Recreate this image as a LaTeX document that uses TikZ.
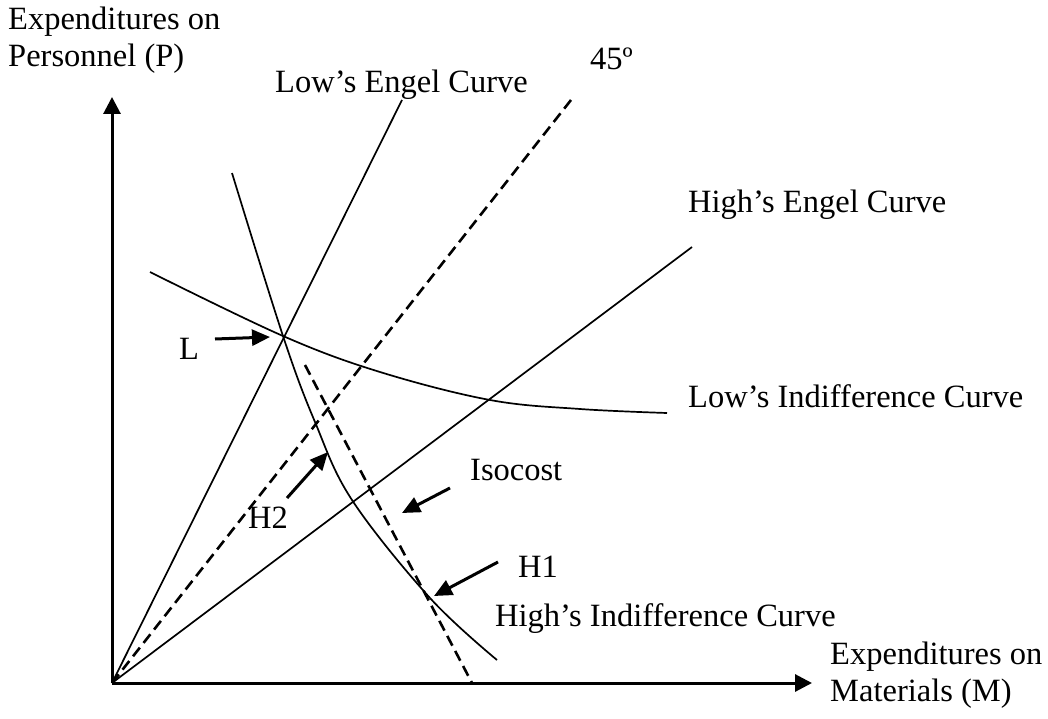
\documentclass[tikz,border=0pt]{standalone}
\usepackage{fontspec}
\setmainfont{Liberation Serif}
\usetikzlibrary{arrows.meta}
\begin{document}
\begin{tikzpicture}[x=1pt,y=-1pt,
  lbl/.style={anchor=base west, inner sep=0pt, font=\fontsize{32.5}{38}\selectfont},
  axisline/.style={line width=3pt, -{Triangle[length=17pt,width=17pt]}},
  curveline/.style={line width=1.7pt},
  dashline/.style={line width=2.6pt, dash pattern=on 11pt off 6pt},
  ptr/.style={line width=3pt, -{Triangle[length=18pt,width=16pt]}}
]
\path[use as bounding box] (0,0) rectangle (1048,719);

% labels
\node[lbl] (ylab1) at (8,30) {Expenditures on};
\node[lbl] (ylab2) at (8,67) {Personnel (P)};
\node[lbl] (xlab1) at (830,664) {Expenditures on};
\node[lbl] (xlab2) at (830,701) {Materials (M)};
\node[lbl] (lengel) at (275,93) {Low’s Engel Curve};
\node[lbl] (deg) at (590,70) {45º};
\node[lbl] (hengel) at (688,213) {High’s Engel Curve};
\node[lbl] (lindiff) at (688,407) {Low’s Indifference Curve};
\node[lbl] (hindiff) at (495,626) {High’s Indifference Curve};
\node[lbl] (Ltxt) at (179,359) {L};
\node[lbl] (H2txt) at (248,528) {H2};
\node[lbl] (isotxt) at (470,480) {Isocost};
\node[lbl] (H1txt) at (518,577) {H1};

% coordinates
\coordinate (O) at (112,683);
\coordinate (Ytip) at (112,97);
\coordinate (Xtip) at (812,683);
\coordinate (LE) at (402,100);
\coordinate (FF) at (571,100);
\coordinate (HE) at (692,247);
\coordinate (Lpt) at (283,336);
\coordinate (H1pt) at (430,598);
\coordinate (H2pt) at (328,452);
\coordinate (isoA) at (305,365);
\coordinate (isoB) at (472,683);

% axes
\draw[axisline] (O) -- (Ytip);
\draw[axisline] (O) -- (Xtip);

% Engel curves and 45 degree line
\draw[curveline] (O) -- (LE);
\draw[curveline] (O) -- (HE);
\draw[dashline] (O) -- (FF);

% indifference curves
\draw[curveline] plot[smooth, tension=0.6] coordinates
  {(150,272) (Lpt) (380,372) (490,400) (580,409) (667,413)};
\draw[curveline] plot[smooth, tension=0.6] coordinates
  {(232,173) (Lpt) (315,422) (352,500) (H1pt) (497,660)};

% isocost
\draw[dashline] (isoA) -- (isoB);

% pointer arrows
\coordinate (Lfrom) at (215,339);
\coordinate (Lto) at (270,337);
\draw[ptr] (Lfrom) -- (Lto);
\coordinate (H2from) at (287,498);
\draw[ptr] (H2from) -- (H2pt);
\coordinate (isofrom) at (450,488);
\coordinate (isoto) at (402,513);
\draw[ptr] (isofrom) -- (isoto);
\coordinate (H1from) at (498,562);
\coordinate (H1to) at (434,596);
\draw[ptr] (H1from) -- (H1to);
\end{tikzpicture}
\end{document}
